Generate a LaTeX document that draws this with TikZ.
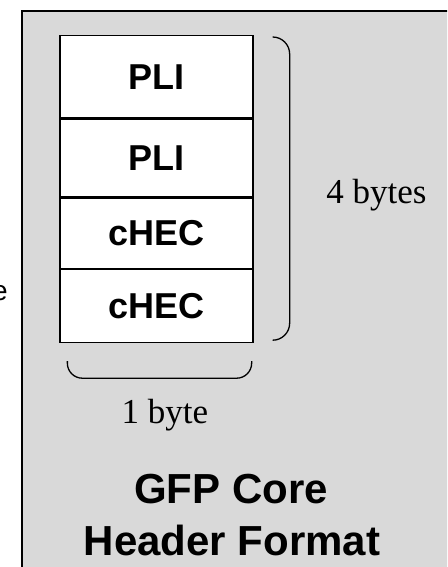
\documentclass[tikz,border=0pt]{standalone}
\usepackage{fontspec}
\setmainfont{Liberation Serif}
\newfontfamily\arialfont{Liberation Sans}
\usepackage{xcolor}
\usepackage{tikz}
\usetikzlibrary{positioning,calc}

\definecolor{panelgray}{RGB}{217,217,217}

\tikzset{
  field/.style={draw, fill=white, line width=1.3pt, minimum width=193pt, inner sep=0pt,
    font=\arialfont\bfseries\fontsize{36}{40}\selectfont},
  brace/.style={line width=1.3pt, rounded corners=17pt},
  label/.style={font=\fontsize{35}{40}\selectfont, inner sep=0pt},
  heading/.style={anchor=base, inner sep=0pt, font=\arialfont\bfseries\fontsize{42}{52}\selectfont}
}

\begin{document}
\begin{tikzpicture}[x=1pt, y=-1pt]
		\useasboundingbox (0,0) rectangle (447,567);
		\clip (0,0) rectangle (447,567);
		\fill[white] (0,0) rectangle (447,567);

		% panel
		\draw[line width=2pt, fill=panelgray] (22,11) rectangle (470,590);
		\node[anchor=base east, inner sep=0pt, font=\arialfont\fontsize{28}{32}\selectfont] (cut) at (8,300) {e};

		% header bytes
		\node[field, minimum height=82pt, anchor=north] (pli1) at (156.5,35) {PLI};
		\node[field, minimum height=78pt, below=0pt of pli1] (pli2) {PLI};
		\node[field, minimum height=70pt, below=0pt of pli2] (chec1) {cHEC};
		\node[field, minimum height=73pt, below=0pt of chec1] (chec2) {cHEC};

		% brackets
		\coordinate (rtop) at ($(pli1.north east)+(20,2)$);
		\coordinate (rbot) at ($(chec2.south east)+(20,-3)$);
		\draw[brace] (rtop) -- ++(16,0) -- ($(rbot)+(16,0)$) -- (rbot);
		\coordinate (bleft) at ($(chec2.south west)+(8,18)$);
		\coordinate (bright) at ($(chec2.south east)+(-2,18)$);
		\draw[brace, rounded corners=15pt] (bleft) -- ++(0,17) -- ($(bright)+(0,17)$) -- (bright);

		\node[label, anchor=base] (four) at (376.5,203) {4 bytes};
		\node[label, anchor=base] (one) at (165,423) {1 byte};

		\node[heading] (title1) at (231,503) {GFP Core};
		\node[heading] (title2) at (232,555) {Header Format};
	\end{tikzpicture}
\end{document}
